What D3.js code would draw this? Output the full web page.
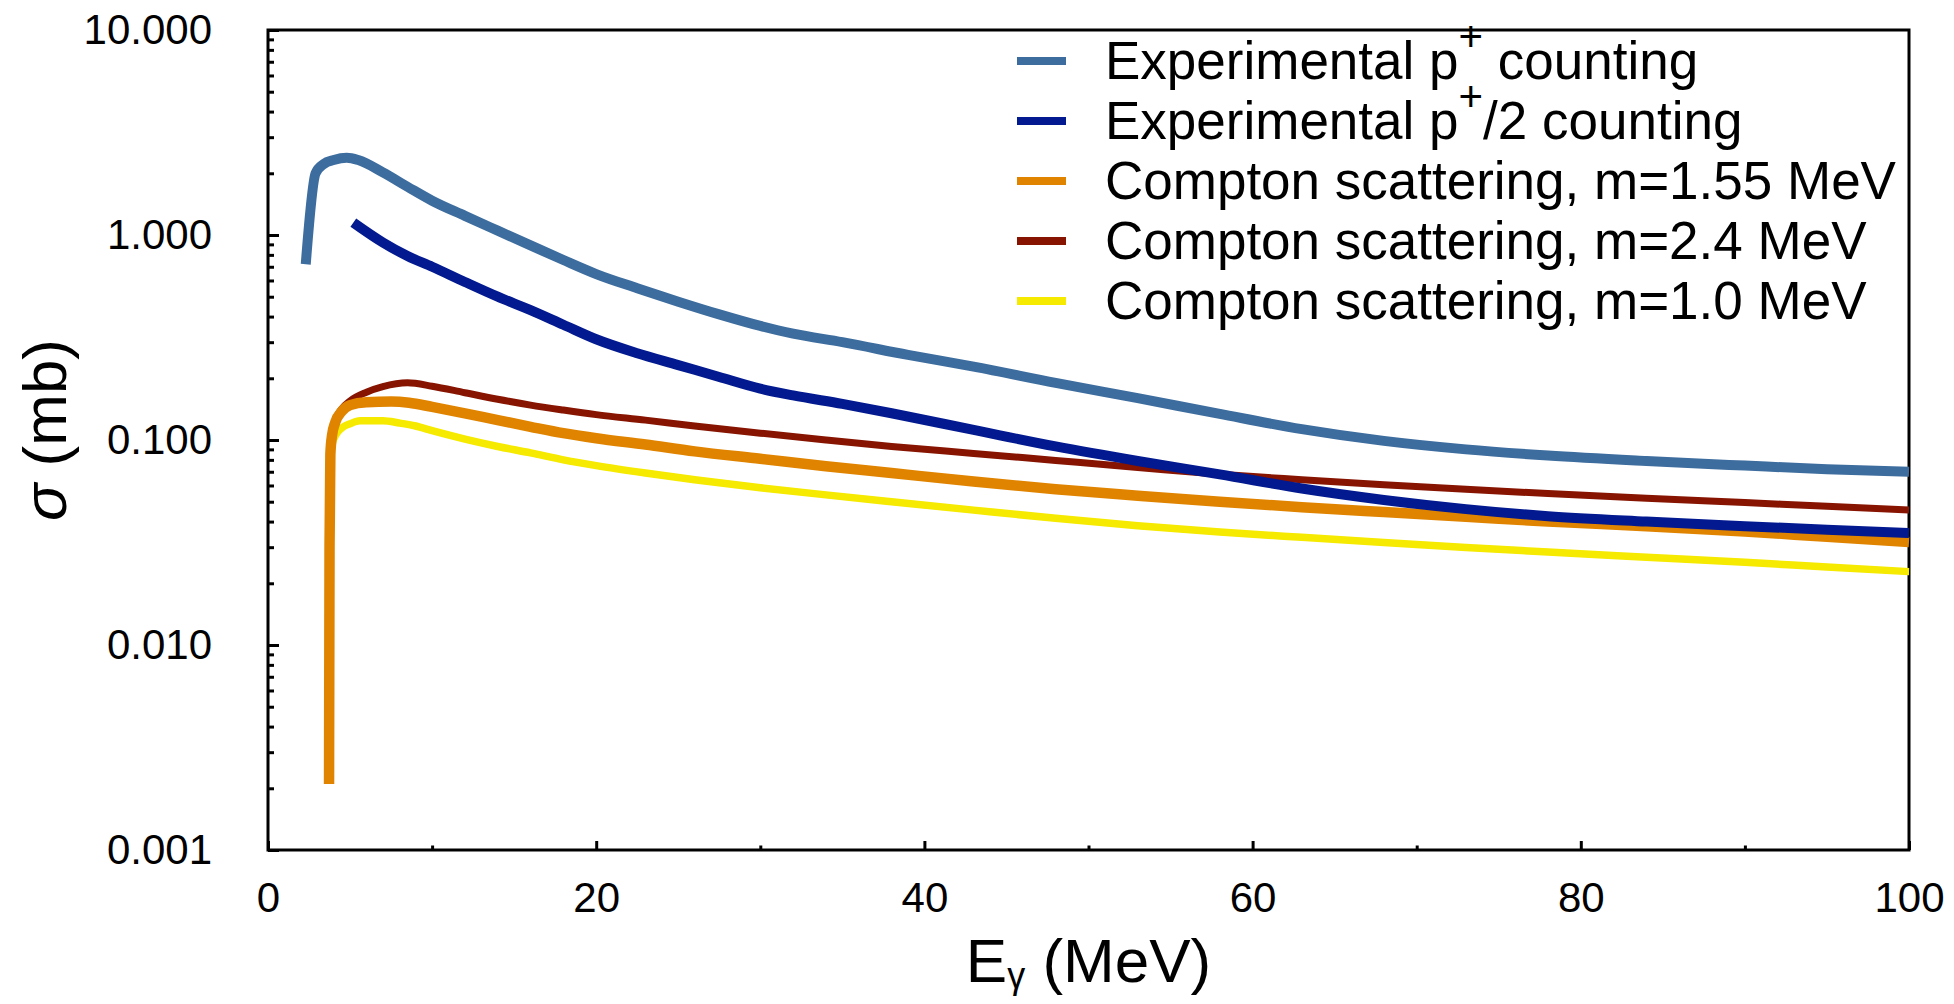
<!DOCTYPE html>
<html>
<head>
<meta charset="utf-8">
<script src="https://d3js.org/d3.v7.min.js"></script>
<style>
  body { margin: 0; background: #fff; }
  text { font-family: "Liberation Sans", Arial, Helvetica, sans-serif; fill: #000; }
</style>
</head>
<body>
<div id="chart"></div>
<script>
// values: photon energy (MeV) and cross section (mb)
var pEnergy = [2.3, 2.9, 3.4, 4.0, 4.8, 5.5, 7, 8.5, 10, 12, 14, 16, 18, 20, 22.5, 25, 27.5, 30, 32, 35, 39, 43, 48, 53, 58, 63, 68, 73, 78, 84, 90, 95, 100];
var pSigma  = [0.72, 2.0, 2.22, 2.32, 2.38, 2.32, 2.02, 1.72, 1.47, 1.24, 1.05, 0.89, 0.755, 0.645, 0.55, 0.473, 0.41, 0.36, 0.33, 0.30, 0.26, 0.228, 0.19, 0.16, 0.134, 0.113, 0.099, 0.090, 0.084, 0.079, 0.075, 0.072, 0.070];

var p2Energy = [5.2, 7, 8.5, 10, 12, 14, 16, 18, 20, 22.5, 25, 27.5, 30, 32, 35, 38, 43, 48, 53, 58, 63, 68, 73, 78, 84, 90, 95, 100];
var p2Sigma  = [1.15, 0.92, 0.79, 0.70, 0.59, 0.50, 0.43, 0.365, 0.31, 0.265, 0.232, 0.203, 0.178, 0.165, 0.150, 0.135, 0.112, 0.093, 0.079, 0.068, 0.058, 0.051, 0.046, 0.0425, 0.040, 0.038, 0.0365, 0.0352];

var c155Energy = [3.72, 3.75, 3.8, 3.9, 4.1, 4.5, 5, 6, 7.5, 8.6, 10, 12, 14, 16, 18, 20, 23, 26, 30, 34, 38, 43, 48, 53, 58, 63, 68, 73, 78, 84, 90, 95, 100];
var c155Sigma  = [0.0021, 0.03, 0.085, 0.105, 0.122, 0.138, 0.148, 0.153, 0.154, 0.152, 0.145, 0.135, 0.125, 0.116, 0.108, 0.102, 0.095, 0.088, 0.081, 0.0745, 0.069, 0.0627, 0.0575, 0.0535, 0.050, 0.047, 0.0445, 0.0422, 0.040, 0.038, 0.0358, 0.0337, 0.0318];

var c24Energy = [3.72, 3.75, 3.8, 3.9, 4.1, 4.5, 5, 6, 7, 8.5, 10, 12, 14, 16, 18, 20, 23, 26, 30, 34, 38, 43, 48, 53, 58, 63, 68, 73, 78, 84, 90, 95, 100];
var c24Sigma  = [0.0021, 0.03, 0.085, 0.105, 0.124, 0.142, 0.155, 0.171, 0.182, 0.19, 0.183, 0.170, 0.158, 0.148, 0.140, 0.133, 0.125, 0.117, 0.108, 0.100, 0.093, 0.086, 0.0795, 0.0735, 0.068, 0.064, 0.0605, 0.0575, 0.0548, 0.052, 0.0495, 0.0475, 0.0456];

var c10Energy = [3.72, 3.75, 3.8, 3.9, 4.2, 4.6, 5, 5.6, 7, 8, 9, 10, 12, 14, 16, 18, 20, 23, 26, 30, 34, 38, 43, 48, 53, 58, 63, 68, 73, 78, 84, 90, 95, 100];
var c10Sigma  = [0.0021, 0.03, 0.08, 0.095, 0.108, 0.116, 0.12, 0.124, 0.124, 0.121, 0.117, 0.111, 0.101, 0.093, 0.0865, 0.080, 0.075, 0.069, 0.064, 0.0585, 0.054, 0.050, 0.0455, 0.0415, 0.0382, 0.0356, 0.0335, 0.0316, 0.0299, 0.0284, 0.0268, 0.0253, 0.0240, 0.0228];

// legend text: [before superscript, superscript, after]
var legendLabels = [
  ["Experimental p", "+", " counting"],
  ["Experimental p", "+", "/2 counting"],
  ["Compton scattering, m=1.55 MeV", "", ""],
  ["Compton scattering, m=2.4 MeV", "", ""],
  ["Compton scattering, m=1.0 MeV", "", ""]
];
var legendColors = ["#3d6c9e", "#02198f", "#e08400", "#861400", "#f5ea00"];

var yTicks = [0.001, 0.01, 0.1, 1, 10];
var xTicks = [0, 20, 40, 60, 80, 100];
var xMinorTicks = [10, 30, 50, 70, 90];

// set the dimensions and margins of the graph
var margin = {top: 30, right: 45, bottom: 154, left: 268},
    width = 1954 - margin.left - margin.right,
    height = 1004 - margin.top - margin.bottom;

var svg = d3.select("#chart")
  .append("svg")
    .attr("width", width + margin.left + margin.right)
    .attr("height", height + margin.top + margin.bottom)
  .append("g")
    .attr("transform", "translate(" + margin.left + "," + margin.top + ")");

var x = d3.scaleLinear()
  .domain([0, 100])
  .range([0, width]);

var y = d3.scaleLog()
  .domain([0.001, 10])
  .range([height, 0]);

// Add Y axis (ticks pointing inside)
svg.append("g")
  .attr("class", "axis")
  .call(d3.axisLeft(y).tickValues(yTicks).tickFormat(d3.format(".3f")).tickSize(-11).tickPadding(56).tickSizeOuter(0));

var yMinor = y.ticks().filter(function(d) { return yTicks.indexOf(d) < 0; });
svg.append("g")
  .attr("class", "axis")
  .call(d3.axisLeft(y).tickValues(yMinor).tickFormat("").tickSize(-6).tickSizeOuter(0));

// Add X axis
svg.append("g")
  .attr("class", "axis")
  .attr("transform", "translate(0," + height + ")")
  .call(d3.axisBottom(x).tickValues(xTicks).tickSize(-9).tickPadding(32).tickSizeOuter(0));

svg.append("g")
  .attr("class", "axis")
  .attr("transform", "translate(0," + height + ")")
  .call(d3.axisBottom(x).tickValues(xMinorTicks).tickFormat("").tickSize(-4.5).tickSizeOuter(0));

svg.selectAll(".axis .domain").remove();
svg.selectAll(".axis line").attr("stroke", "#000").attr("stroke-width", 3);
svg.selectAll(".axis text").style("font-size", "42px").attr("fill", "#000");

// frame
svg.append("rect")
  .attr("width", width)
  .attr("height", height)
  .attr("fill", "none")
  .attr("stroke", "#000")
  .attr("stroke-width", 3);

// curves
var line = d3.line()
  .x(function(d) { return x(d[0]); })
  .y(function(d) { return y(d[1]); })
  .curve(d3.curveMonotoneX);

function addCurve(es, ss, color, w) {
  svg.append("path")
    .datum(es.map(function(e, i) { return [e, ss[i]]; }))
    .attr("fill", "none")
    .attr("stroke", color)
    .attr("stroke-width", w)
    .attr("stroke-linejoin", "round")
    .attr("d", line);
}

addCurve(c24Energy, c24Sigma, legendColors[3], 7);
addCurve(c10Energy, c10Sigma, legendColors[4], 7.5);
addCurve(c155Energy, c155Sigma, legendColors[2], 10.5);
addCurve(pEnergy, pSigma, legendColors[0], 10);
addCurve(p2Energy, p2Sigma, legendColors[1], 10);

// legend
var legend = svg.append("g")
  .attr("transform", "translate(" + (1017 - margin.left) + "," + (61 - margin.top) + ")");

legendLabels.forEach(function(lab, i) {
  var row = legend.append("g").attr("transform", "translate(0," + i * 60 + ")");
  row.append("line")
    .attr("x1", 0).attr("x2", 49)
    .attr("stroke", legendColors[i])
    .attr("stroke-width", 8);
  var t = row.append("text")
    .attr("x", 88)
    .attr("y", 18)
    .style("font-size", "53px");
  t.append("tspan").text(lab[0]);
  if (lab[1]) {
    t.append("tspan").attr("dy", -28).style("font-size", "42px").text(lab[1]);
    t.append("tspan").attr("dy", 28).text(lab[2]);
  }
});

// axis titles
var xt = svg.append("text")
  .attr("x", width / 2)
  .attr("y", 982 - margin.top)
  .attr("text-anchor", "middle")
  .style("font-size", "62px");
xt.append("tspan").text("E");
xt.append("tspan").attr("dy", 6).style("font-size", "36px").text("γ");
xt.append("tspan").attr("dy", -6).text(" (MeV)");

var yt = svg.append("text")
  .attr("transform", "translate(" + (66 - margin.left) + "," + (430 - margin.top) + ") rotate(-90)")
  .attr("text-anchor", "middle")
  .style("font-size", "62px");
yt.append("tspan").style("font-style", "italic").text("σ");
yt.append("tspan").text(" (mb)");
</script>
</body>
</html>
